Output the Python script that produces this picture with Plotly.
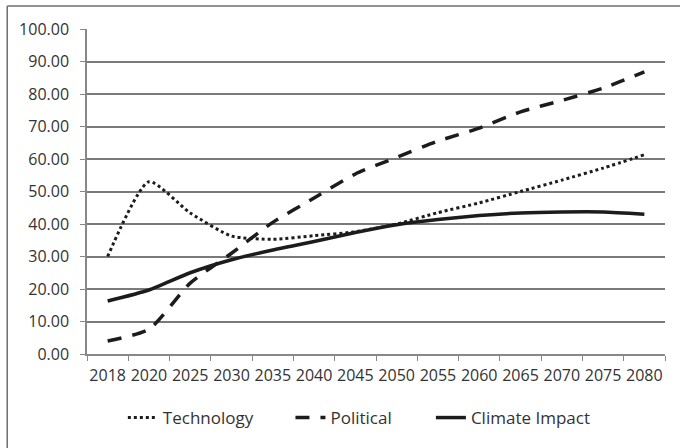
import plotly.graph_objects as go

years = ["2018", "2020", "2025", "2030", "2035", "2040", "2045", "2050",
         "2055", "2060", "2065", "2070", "2075", "2080"]
technology = [30.0, 53.0, 43.4, 36.3, 35.3, 36.4, 37.6, 40.0, 43.5, 46.5, 50.0, 53.5, 57.2, 61.3]
political = [4.0, 7.6, 21.8, 31.0, 40.5, 48.0, 55.4, 60.5, 65.5, 69.5, 74.5, 78.0, 81.8, 86.8]
climate_impact = [16.3, 19.7, 25.0, 29.0, 32.0, 34.6, 37.4, 39.8, 41.4, 42.6, 43.4, 43.7, 43.7, 43.0]

ink = "#1c1c1c"
txt = "#333333"
font_family = "Open Sans, Liberation Sans, sans-serif"

fig = go.Figure()
fig.add_trace(go.Scatter(x=years, y=technology, name="Technology", mode="lines", legend="legend",
                         line=dict(color=ink, width=3, dash="3px,3px", shape="spline", smoothing=0.6)))
fig.add_trace(go.Scatter(x=years, y=political, name="Political", mode="lines", legend="legend2",
                         line=dict(color=ink, width=3.5, dash="14px,11px", shape="spline", smoothing=0.6)))
fig.add_trace(go.Scatter(x=years, y=climate_impact, name="Climate Impact", mode="lines", legend="legend3",
                         line=dict(color=ink, width=3.5, shape="spline", smoothing=0.6)))

# outer frame edges visible in the reference scan (left and top only)
frame = dict(color="#6e6e6e", width=1.5)
fig.add_shape(type="line", xref="paper", yref="paper", x0=-0.138, x1=-0.138, y0=-0.4, y1=1.0708,
              line=frame, layer="below")
fig.add_shape(type="line", xref="paper", yref="paper", x0=-0.138, x1=1.1, y0=1.0708, y1=1.0708,
              line=frame, layer="below")

leg_common = dict(orientation="h", xanchor="left", y=-0.197, yanchor="middle",
                  font=dict(size=17, color=txt, family=font_family),
                  bgcolor="rgba(0,0,0,0)")

fig.update_layout(
    width=680, height=448,
    margin=dict(l=87, r=15, t=29, b=94),
    paper_bgcolor="white", plot_bgcolor="white",
    font=dict(family=font_family, size=16, color=txt),
    showlegend=True,
    legend=dict(x=0.062, **leg_common),
    legend2=dict(x=0.352, **leg_common),
    legend3=dict(x=0.595, **leg_common),
    xaxis=dict(type="category", range=[-0.5, 13.5], tickson="boundaries", ticks="outside", ticklen=5,
               tickcolor="#888888", showgrid=False, showline=True, linecolor="#888888",
               linewidth=1.5, tickfont=dict(size=16, color=txt), automargin=False,
               tickangle=0, ticklabelstandoff=6, fixedrange=True),
    yaxis=dict(range=[0, 100], dtick=10, tickformat=".2f", ticks="outside", ticklen=5,
               tickcolor="#888888", showgrid=True, gridcolor="#7a7a7a", gridwidth=1.5,
               showline=True, linecolor="#888888", linewidth=1.5, zeroline=False,
               tickfont=dict(size=16, color=txt), automargin=False,
               ticklabelstandoff=8, fixedrange=True),
)

fig.write_html(
    "out.html",
    config={"displayModeBar": False},
    post_script=("document.body.style.margin='0';"
                 "document.body.style.overflow='hidden';"
                 "document.documentElement.style.overflow='hidden';"),
)
